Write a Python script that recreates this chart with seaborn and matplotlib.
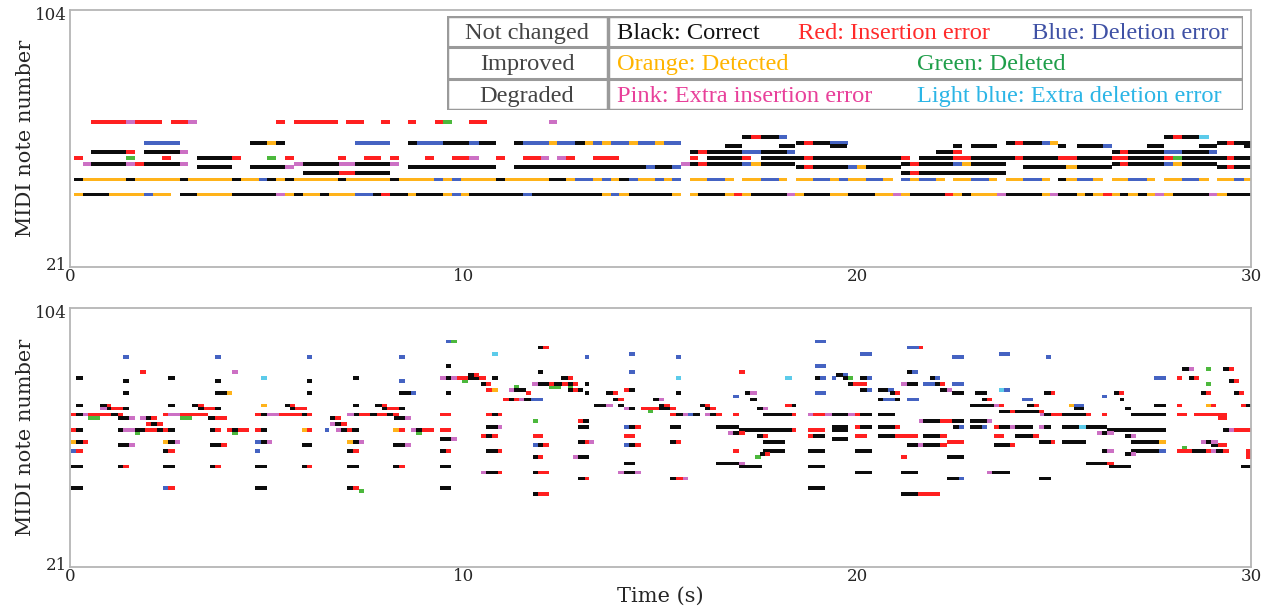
import matplotlib
matplotlib.use("Agg")
import matplotlib.pyplot as plt
from matplotlib.patches import Rectangle
import pandas as pd
import seaborn as sns

# note colour codes: K correct, R insertion, B deletion, O detected,
# G deleted, P extra insertion, L extra deletion
# each run string: "start COLOR boundary COLOR ... end", runs split by "|"

top_pitch = [68, 63, 61, 60, 58, 56, 54, 53, 51, 49, 44]
top_runs = [
    "0.54 R 1.43 P 1.65 R 2.33 | 2.56 R 3.01 P 3.22 | 5.23 R 5.47 | 5.68 R 6.81 | 7.01 R 7.46 | 7.91 R 8.14 | 8.59 R 8.80 | 9.26 R 9.47 G 9.71 | 10.14 R 10.60 | 12.17 P 12.38",
    "17.08 K 17.31 R 17.55 K 18.0 B 18.21 | 27.79 K 28.03 R 28.25 K 28.69 L 28.93",
    "1.88 B 2.79 | 4.58 K 5.0 O 5.23 K 5.47 | 7.25 B 8.14 | 8.59 K 8.82 B 9.47 K 10.14 B 10.39 K 10.81 | 11.28 K 11.51 B 12.17 O 12.38 B 12.84 K 13.07 O 13.29 B 13.51 O 13.74 B 14.19 O 14.42 B 14.85 O 15.09 B 15.51 | 18.44 K 18.65 R 18.88 K 19.30 B 19.77 | 23.78 K 24.0 R 24.21 K 24.68 B 24.89 O 25.10 | 29.14 K 29.38 R 29.57 K 30.0",
    "16.63 K 17.08 | 18.0 K 18.42 | 19.30 K 19.75 | 22.44 K 22.65 | 22.88 K 23.55 | 25.10 K 25.31 | 25.57 K 26.23 B 26.46 | 27.35 K 27.79 | 28.69 K 29.14 | 29.81 K 30.0",
    "0.54 K 1.43 R 1.65 | 1.88 K 2.79 P 3.01 | 15.74 K 15.95 R 16.18 K 17.08 B 17.55 K 18.21 B 18.42 | 22.0 K 22.44 R 22.65 | 26.46 K 26.67 R 26.88 K 27.79 B 28.25 K 28.93 B 29.14",
    "0.10 R 0.33 | 1.43 G 1.65 | 2.33 R 2.56 | 3.22 K 4.11 R 4.35 | 5.0 G 5.23 | 5.47 R 5.68 | 6.81 R 7.01 | 7.46 R 7.91 | 8.14 R 8.35 | 9.03 R 9.24 | 9.71 R 10.14 P 10.39 | 10.81 R 11.05 | 11.51 R 11.96 P 12.17 | 12.38 P 12.60 R 12.84 | 13.29 R 13.95 | 15.74 R 15.95 | 16.18 K 17.08 R 17.31 | 17.55 K 18.65 R 18.88 K 21.10 R 21.34 | 21.56 K 22.44 R 22.88 K 24.0 R 24.21 K 25.10 R 25.57 K 26.46 R 26.88 K 27.79 R 28.03 G 28.25 K 29.38 R 29.57 K 30.0",
    "0.33 P 0.54 K 1.43 P 1.65 R 1.88 K 2.79 P 3.01 | 5.68 P 5.93 K 6.83 P 7.25 K 8.14 P 8.35 | 15.51 P 15.74 K 15.95 R 16.18 K 17.08 B 17.31 O 17.55 K 18.42 | 21.10 K 21.34 R 21.56 K 22.44 B 22.65 O 22.88 K 23.78 | 26.46 K 26.67 R 26.88 K 27.79 B 28.03 O 28.25 K 29.14",
    "3.22 K 4.11 | 4.58 K 5.47 P 5.68 | 8.59 K 10.81 | 11.28 K 14.64 B 14.85 K 15.30 B 15.51 | 18.44 K 18.65 R 18.88 K 19.77 B 19.98 O 20.22 K 21.10 | 24.21 K 25.31 O 25.57 K 26.46 | 29.14 K 29.38 R 29.57 K 30.0",
    "5.93 K 6.83 R 7.25 K 8.14 | 21.10 K 21.34 R 21.56 K 23.78",
    "0.10 K 0.33 O 1.43 K 1.65 O 2.79 K 3.01 O 4.11 K 4.35 O 4.79 B 5.0 K 5.23 O 5.47 K 5.68 O 6.81 K 7.01 O 8.14 K 8.35 O 9.24 B 9.47 O 9.71 B 9.92 O 10.81 K 11.05 O 12.17 K 12.60 O 12.84 B 13.29 O 13.51 B 13.74 O 13.95 K 14.19 B 14.42 O 14.85 B 15.09 O 15.30 B 15.51 | 15.74 O 16.18 B 16.63 O 16.86 | 17.08 O 17.55 B 18.0 O 18.21 | 18.44 O 18.88 B 19.30 O 19.54 B 19.77 O 20.22 B 20.66 O 20.90 | 21.10 B 21.34 O 21.56 B 22.0 O 22.23 | 22.44 O 22.88 B 23.34 O 23.55 | 23.78 O 24.21 B 24.68 O 24.89 | 25.10 K 25.31 O 25.57 B 25.99 O 26.23 | 26.46 O 26.88 B 27.35 O 27.56 | 27.79 O 28.25 B 28.69 O 28.93 | 29.14 O 29.57 B 29.81 O 30.0",
    "0.10 O 0.33 K 0.98 O 1.88 B 2.11 O 2.56 | 2.79 K 3.22 O 4.11 K 5.23 P 5.47 O 5.68 K 5.93 O 6.36 K 6.57 O 7.25 B 7.69 K 7.91 R 8.14 K 8.59 O 8.80 K 9.47 O 9.71 B 9.92 O 10.14 K 11.51 B 11.73 K 13.51 O 13.74 B 13.95 O 14.19 K 15.30 O 15.51 | 15.74 O 15.95 K 16.63 O 16.86 R 17.08 O 17.31 K 18.21 P 18.42 O 18.65 K 19.30 O 19.77 K 20.45 O 20.90 P 21.10 O 21.34 K 22.23 R 22.44 O 22.65 K 22.88 O 23.55 P 23.78 K 24.68 O 24.89 P 25.10 K 25.57 O 25.78 K 25.99 O 26.23 R 26.46 O 26.67 K 26.88 O 27.14 K 27.35 O 27.56 P 27.79 O 28.03 K 28.93 P 29.14 O 29.38 K 30.0",
]

bottom_pitch = [94, 92, 90, 89, 86, 85, 84, 83, 82, 81, 80, 79, 78, 77, 76, 75,
                73, 72, 71, 70, 69, 68, 67, 66, 65, 64, 63, 62, 61, 60, 59, 58,
                57, 56, 54, 53, 51, 49, 46, 45, 44]
bottom_runs = [
    "9.54 B 9.69 G 9.84 | 18.92 B 19.20",
    "11.88 K 12.02 R 12.17 | 21.26 B 21.56 R 21.68",
    "10.71 L 10.86 | 14.21 B 14.35 | 20.07 B 20.36 | 23.59 B 23.89",
    "1.35 B 1.49 | 3.68 B 3.83 | 6.02 B 6.16 | 8.35 B 8.50 | 13.07 B 13.19 | 15.40 B 15.53 | 22.40 B 22.70 | 24.78 B 24.91",
    "9.54 K 9.69 | 18.92 B 19.20",
    "28.25 K 28.42 P 28.55 | 28.85 G 28.98 | 29.28 K 29.45 R 29.58",
    "1.77 R 1.92 | 4.11 P 4.28 | 11.88 K 12.02 | 14.21 B 14.35 | 17.0 R 17.14 | 21.26 K 21.39 B 21.53",
    "10.12 K 10.26 R 10.39 | 19.47 K 19.64 B 19.77",
    "0.16 K 0.33 | 2.50 K 2.67 | 4.86 L 5.0 | 7.18 K 7.33 | 9.40 P 9.54 K 9.69 P 9.84 R 10.12 K 10.39 R 10.56 | 10.71 K 10.86 | 12.47 K 12.64 R 12.77 | 15.40 L 15.53 | 18.16 L 18.33 | 18.92 K 19.05 B 19.20 | 19.35 B 19.47 | 19.64 K 19.77 G 19.90 | 20.07 K 20.24 B 20.36 | 21.85 K 21.97 B 22.10 | 27.54 B 27.83 | 28.13 R 28.25 | 28.42 K 28.55 R 28.68",
    "1.35 K 1.49 | 3.68 K 3.83 | 6.02 K 6.16 | 8.35 B 8.50 | 9.97 G 10.12 | 29.45 K 29.58 R 29.70",
    "10.43 K 10.56 R 10.69 | 11.73 P 11.88 K 12.17 R 12.30 K 12.51 R 12.64 K 12.77 R 12.90 | 13.07 K 13.19 | 19.77 K 19.90 R 20.24 | 21.10 P 21.26 K 21.53 | 21.68 B 21.97 K 22.10 R 22.23 | 22.40 B 22.70 | 28.85 G 28.98",
    "11.28 G 11.41 | 12.17 G 12.47 | 12.64 G 12.77",
    "10.56 R 10.71 O 10.86 | 11.15 P 11.28 K 11.58 | 12.64 K 12.77 R 12.90 K 13.02 | 14.08 R 14.21 K 14.35 | 20.07 K 20.24 B 20.36 | 20.53 K 20.79 B 20.92 | 22.10 K 22.27 P 22.40 | 23.59 L 23.72 B 23.89",
    "1.35 K 1.49 | 3.68 K 3.98 O 4.11 | 6.02 K 6.16 | 8.35 K 8.65 B 8.79 | 9.54 K 9.69 | 11.58 R 11.71 | 13.07 K 13.19 | 13.62 K 13.79 R 13.91 | 15.40 K 15.53 | 17.14 K 17.27 P 17.44 | 18.92 B 19.20 | 20.83 K 20.96 R 21.09 | 22.40 K 22.70 | 23.0 K 23.29 | 24.75 K 24.91 R 25.03 | 26.52 K 26.65 R 26.77 | 28.72 K 28.85 R 28.98 | 29.58 K 29.70 R 29.83",
    "16.84 B 17.0 | 26.22 B 26.35",
    "11.0 R 11.15 K 11.28 R 11.41 P 11.54 K 11.71 B 12.02 | 13.79 K 13.91 R 14.08 | 14.82 K 14.95 P 15.10 | 17.27 K 17.44 | 20.53 K 20.66 B 20.96 K 21.09 | 21.26 B 21.56 | 23.17 K 23.29 R 23.42 | 24.18 B 24.46 | 26.67 K 26.77",
    "0.16 K 0.33 | 0.76 K 0.93 R 1.05 | 2.50 K 2.67 | 3.09 K 3.26 R 3.40 | 4.86 O 5.0 | 5.47 K 5.59 R 5.72 | 7.18 K 7.33 | 7.76 K 7.93 R 8.06 | 13.32 K 13.62 P 13.79 | 13.91 K 14.08 | 14.95 K 15.10 R 15.23 | 16.0 K 16.12 R 16.25 | 18.16 R 18.33 K 18.45 | 22.87 K 23.46 P 23.59 R 23.72 | 24.32 K 24.48 R 24.61 | 25.38 O 25.50 B 25.76 | 27.54 K 27.83 | 28.13 R 28.25 | 28.85 O 28.98 R 29.11 | 29.74 R 29.87 K 30.0",
    "0.76 P 0.93 K 1.05 R 1.35 K 1.49 | 3.26 K 3.40 R 3.68 K 3.83 | 5.59 K 5.72 R 6.02 | 7.93 K 8.06 R 8.35 K 8.50 | 14.08 P 14.21 K 14.35 | 14.51 R 14.95 K 15.23 R 15.40 | 16.12 K 16.25 R 16.42 | 17.44 K 17.61 P 17.74 | 25.50 K 25.76 | 26.81 K 26.94",
    "14.68 G 14.82 | 23.59 K 23.89 R 24.0 K 24.61 R 24.74",
    "0.02 R 0.16 K 0.33 P 0.46 R 1.05 K 1.21 R 1.35 | 2.37 R 2.50 P 2.79 R 3.51 | 4.70 R 4.86 K 5.0 P 5.30 R 5.89 K 6.02 R 6.16 | 7.04 P 7.21 K 7.33 R 7.63 K 7.80 R 8.06 K 8.21 R 8.35 | 9.40 R 9.69 | 10.56 R 10.71 K 10.86 R 10.98 | 15.23 R 15.40 K 15.58 P 15.70 B 15.82 K 16.0 | 16.12 P 16.25 K 16.42 R 16.55 | 16.84 R 17.0 | 17.61 K 18.33 R 18.45 | 18.75 P 18.88 R 19.18 P 19.35 K 19.77 P 19.94 R 20.07 K 20.36 | 20.53 K 20.96 | 24.64 P 24.75 K 24.91 R 25.20 K 25.80 R 25.93 | 26.22 R 26.35 | 26.94 K 27.83 | 28.13 R 28.38 | 28.55 R 29.40",
    "0.46 G 0.76 | 1.21 K 1.49 P 1.65 | 1.77 P 1.92 K 2.07 R 2.22 | 2.79 G 3.09 | 3.51 K 3.68 R 3.98 | 6.61 K 6.74 R 6.89 | 8.23 K 8.50 P 8.65 | 29.15 R 29.40",
    "11.75 G 11.88 | 12.90 R 13.02 K 13.19 | 21.56 P 21.68 K 22.10 R 22.40 K 22.70 | 22.87 K 23.29 P 23.42",
    "1.92 R 2.07 K 2.22 R 2.37 | 6.61 P 6.74 K 6.89 R 7.04",
    "10.56 K 10.86 P 10.98 | 12.90 K 13.19 | 14.08 B 14.21 K 14.35 R 14.51 | 15.23 K 15.53 | 16.42 K 17.0 | 19.35 K 19.77 | 19.94 R 20.07 K 20.36 | 20.53 K 20.96 R 21.09 | 22.43 K 22.58 B 22.70 | 22.87 K 23.17 B 23.29 | 23.46 R 23.59 K 23.89 P 24.0 K 24.46 | 24.61 P 24.74 K 24.91 | 25.20 K 25.63 L 25.80 K 26.35",
    "0.02 R 0.16 K 0.33 | 1.21 K 1.35 P 1.65 K 1.90 R 2.20 K 2.37 R 2.50 K 2.67 | 3.56 K 3.68 R 3.83 | 3.98 R 4.11 K 4.28 R 4.55 | 4.70 R 4.86 K 5.0 | 5.89 O 6.02 R 6.16 | 6.47 B 6.59 | 6.76 P 6.89 K 7.04 R 7.16 K 7.33 | 8.21 O 8.35 R 8.50 | 8.65 P 8.79 K 8.95 R 9.24 | 9.40 R 9.69 | 17.0 K 18.33 R 18.45 | 18.75 R 19.18 | 19.35 K 19.77 | 26.35 K 27.83 | 29.28 K 29.45 P 29.58 R 30.0",
    "1.65 G 1.77 | 4.11 G 4.28 | 8.79 G 8.95 | 16.72 P 16.84 K 17.0 R 17.14 | 26.10 P 26.22 K 26.35 P 26.52",
    "10.43 R 10.56 K 10.71 R 10.86 | 11.75 R 12.02 | 14.08 R 14.35 | 17.44 K 17.61 R 17.74 | 18.75 R 18.88 K 19.18 | 19.94 R 20.24 | 20.53 K 20.96 R 21.53 | 21.68 K 22.10 R 22.27 | 23.46 R 23.72 | 24.0 K 24.46 R 24.61 | 26.81 K 26.94 P 27.07",
    "9.40 K 9.69 P 9.84 | 19.35 K 19.77",
    "0.02 O 0.16 K 0.33 R 0.46 | 2.37 O 2.50 K 2.67 P 2.79 | 4.70 B 4.86 K 5.0 P 5.13 | 7.04 O 7.18 K 7.33 P 7.46 | 12.90 K 13.07 R 13.19 P 13.32 | 15.23 K 15.40 R 15.53 | 17.61 K 18.16 | 22.27 R 22.70 | 24.61 K 24.91 R 25.03 | 25.20 K 25.80 | 26.94 K 27.66 O 27.83 | 28.72 P 28.85 K 28.98 P 29.15",
    "1.21 K 1.49 P 1.65 | 3.56 K 3.83 R 3.98 | 5.89 K 6.16 | 8.21 K 8.50 P 8.65 | 11.75 B 11.88 K 12.02 R 12.17 | 14.08 B 14.21 K 14.35 R 14.51 | 21.26 K 21.53 P 21.68 K 22.10 R 22.27 | 23.46 K 23.89 R 24.0 | 28.98 K 29.15 R 29.40",
    "28.25 G 28.38",
    "0.02 B 0.16 R 0.33 | 2.37 K 2.50 R 2.67 | 4.70 B 4.83 | 7.04 K 7.18 R 7.33 | 9.40 K 9.54 R 9.69 | 10.56 K 10.86 R 10.98 | 16.84 R 17.0 | 17.61 K 18.16 | 18.75 K 19.18 | 19.94 K 20.36 | 26.22 K 26.35 P 26.52 | 26.94 K 27.66 B 27.83 | 28.13 R 28.51 K 28.85 R 28.98 P 29.11 K 29.28 R 29.45 | 29.87 R 30.0",
    "17.53 K 17.65 R 17.78 | 26.81 K 26.94 P 27.07 | 29.87 R 30.0",
    "11.75 K 11.88 R 12.02 | 12.77 P 12.90 K 13.19 | 17.40 G 17.55 | 21.10 R 21.26 | 22.27 K 22.70 | 29.87 R 30.0",
    "14.08 K 14.35 | 16.42 K 17.0 P 17.14 | 25.80 K 26.35 R 26.52",
    "0.02 K 0.33 | 1.21 K 1.35 R 1.49 | 2.37 K 2.67 | 3.56 K 3.68 R 3.83 | 4.70 K 5.0 | 5.89 K 6.02 R 6.16 | 7.04 K 7.33 | 8.21 K 8.35 R 8.50 | 9.40 K 9.69 | 17.0 K 17.57 | 18.75 K 19.18 | 26.39 K 26.94 | 29.74 K 30.0",
    "10.43 P 10.56 K 10.86 R 10.98 | 11.75 K 11.88 R 12.17 | 13.91 P 14.08 K 14.35 P 14.51 | 19.94 K 20.36 | 21.10 K 21.53 | 23.29 P 23.42 K 23.89",
    "12.90 K 13.07 R 13.19 | 15.23 K 15.40 R 15.58 P 15.70 | 22.27 K 22.58 B 22.70 | 24.61 K 24.91",
    "0.02 K 0.33 | 2.37 B 2.50 R 2.67 | 4.70 K 5.0 | 7.04 K 7.18 R 7.33 | 9.40 K 9.69 | 18.75 K 19.18",
    "7.33 G 7.46",
    "11.75 K 11.88 R 12.17 | 21.10 K 21.53 R 22.10",
]

legend_rows = ["Not changed", "Improved", "Degraded"]
legend_items = [
    [("Black: Correct", "K"), ("Red: Insertion error", "R"), ("Blue: Deletion error", "B")],
    [("Orange: Detected", "O"), ("Green: Deleted", "G")],
    [("Pink: Extra insertion error", "P"), ("Light blue: Extra deletion error", "L")],
]

bar_colors = {"K": "#0c0c0c", "R": "#ff2020", "B": "#4563c2", "O": "#ffb31a",
              "G": "#4cb83c", "P": "#cc70c4", "L": "#5ccbea"}
text_colors = {"K": "#111111", "R": "#ff2a2a", "B": "#3f51a5", "O": "#ffb400",
               "G": "#1f9e4a", "P": "#e8409a", "L": "#2bb5e6"}


def to_frame(pitches, runs):
    rows = []
    for p, spec in zip(pitches, runs):
        for run in spec.split("|"):
            tok = run.split()
            for i in range(1, len(tok) - 1, 2):
                rows.append((p, tok[i], float(tok[i - 1]), float(tok[i + 1])))
    return pd.DataFrame(rows, columns=["pitch", "kind", "start", "end"])


def draw_roll(ax, df):
    for kind, g in df.groupby("kind"):
        ax.barh(g["pitch"], g["end"] - g["start"], left=g["start"], height=1.2,
                color=bar_colors[kind], linewidth=0)
    ax.set_xlim(0, 30)
    ax.set_ylim(20, 105)
    ax.set_xticks([0, 10, 20, 30])
    ax.set_yticks([21, 104])
    ax.set_ylabel("MIDI note number", fontsize=15, labelpad=0)
    ax.tick_params(labelsize=12, length=0, pad=2)
    ax.tick_params(axis="x", pad=1)
    for s in ax.spines.values():
        s.set_color("#b5b5b5")
        s.set_linewidth(1.3)


sns.set_style("white")
plt.rcParams["font.family"] = ["DejaVu Serif"]

fig = plt.figure(figsize=(12.67, 6.08), dpi=100)
ax1 = fig.add_axes([70 / 1267, 1 - 267 / 608, 1181 / 1267, 257 / 608])
ax2 = fig.add_axes([70 / 1267, 1 - 567 / 608, 1181 / 1267, 259 / 608])

draw_roll(ax1, to_frame(top_pitch, top_runs))
draw_roll(ax2, to_frame(bottom_pitch, bottom_runs))
ax2.set_xlabel("Time (s)", fontsize=15, labelpad=1)

# legend table drawn on top of the upper panel
lg = fig.add_axes([447 / 1267, 1 - 110 / 608, 796 / 1267, 94 / 608])
lg.set_xlim(0, 1)
lg.set_ylim(0, 1)
lg.axis("off")
lg.add_patch(Rectangle((0, 0), 1, 1, facecolor="white", edgecolor="#9a9a9a", lw=2.5))
for yy in [1 / 3, 2 / 3]:
    lg.plot([0, 1], [yy, yy], color="#9a9a9a", lw=2.2)
lg.plot([0.2023, 0.2023], [0, 1], color="#9a9a9a", lw=2.5)

item_x = [[0.2136, 0.441, 0.735], [0.2136, 0.590], [0.2136, 0.590]]
for r, name in enumerate(legend_rows):
    yc = 1 - (r + 0.5) / 3 - 0.02
    lg.text(0.1005, yc, name, ha="center", va="center", fontsize=17.6,
            family="Liberation Serif", color="#444444")
    for (label, code), xx in zip(legend_items[r], item_x[r]):
        lg.text(xx, yc, label, ha="left", va="center", fontsize=17.6,
                family="Liberation Serif", color=text_colors[code])

fig.savefig("out.png", dpi=100)
